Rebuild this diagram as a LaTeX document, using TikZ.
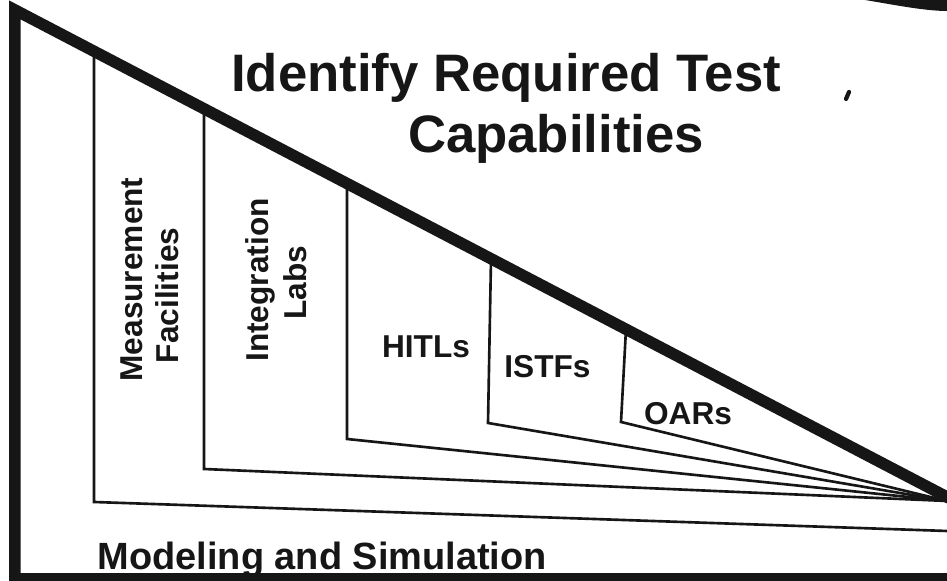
\documentclass[tikz,border=0pt]{standalone}
\usepackage{fontspec}
\setmainfont{Liberation Sans}
\usetikzlibrary{calc}
\definecolor{inkcolor}{RGB}{22, 22, 22}

\begin{document}
\begin{tikzpicture}[>=stealth, line join=miter,
    frameline/.style={inkcolor, line width=1.15mm},
    bayline/.style={inkcolor, line width=0.75pt},
    headtext/.style={inkcolor, font=\fontsize{15}{17}\selectfont\bfseries, inner sep=0pt, anchor=base},
    baylabel/.style={inkcolor, font=\fontsize{9}{10}\selectfont\bfseries, inner sep=0pt, anchor=base},
    sidelabel/.style={baylabel, rotate=90}]

    \useasboundingbox (0,0) rectangle (9.47,5.81);
    \fill[white] (0,0) rectangle (9.47,5.81);

    % ==========================================
    % --- Corner points ---
    % ==========================================
    \coordinate (tl) at (0.15, 5.71);
    \coordinate (bl) at (0.15, -0.05);
    \coordinate (br) at (9.60, 0.772);
    \coordinate (apex) at (9.47, 0.80);   % where the bays meet
    \coordinate (edge) at (9.47, 0.50);   % outer bay ends at the right side

    % Bay walls: top on the slope, bottom corner
    \foreach \n/\xt/\yt/\xb/\yb in {mf/0.94/5.30/0.94/0.79, il/2.04/4.72/2.04/1.12,
                                    hi/3.47/3.975/3.47/1.42, is/4.91/3.22/4.88/1.58,
                                    oa/6.26/2.52/6.21/1.59}
    {
        \coordinate (\n top) at (\xt,\yt);
        \coordinate (\n bot) at (\xb,\yb);
    }

    % --- Bays ---
    \draw[bayline] (mftop) -- (mfbot) -- (edge);
    \draw[bayline] (iltop) -- (ilbot) -- (apex);
    \draw[bayline] (hitop) -- (hibot) -- (apex);
    \draw[bayline] (istop) -- (isbot) -- (apex);
    \draw[bayline] (oatop) -- (oabot) -- (apex);

    % --- Labels ---
    \node[headtext] (ttlA) at (5.06, 4.89) {Identify Required Test};
    \node[headtext] (ttlB) at (5.56, 4.28) {Capabilities};

    \node[sidelabel] (meas) at (1.42, 3.015) {Measurement};
    \node[sidelabel] (fac)  at (1.78, 2.855) {Facilities};
    \node[sidelabel] (integ) at (2.68, 3.01) {Integration};
    \node[sidelabel] (labs) at (3.06, 2.985) {Labs};

    \node[baylabel] (hitl) at (4.26, 2.23) {HITLs};
    \node[baylabel] (istf) at (5.475, 2.03) {ISTFs};
    \node[baylabel] (oar)  at (6.88, 1.56) {OARs};

    \node[inkcolor, font=\fontsize{10.8}{12}\selectfont\bfseries, inner sep=0pt,
          anchor=base west] (model) at (0.97, 0.11) {Modeling and Simulation};

    % --- Frame and slope ---
    \draw[frameline] (bl) -- (tl) -- (br);
    \draw[frameline, line width=0.8mm] (0.09, 0.04) -- (9.47, 0.04);

    % stray marks on the sheet
    \fill[inkcolor] (8.65,5.81) -- (9.47,5.81) -- (9.47,5.70) .. controls (9.25,5.70) and (8.95,5.76) .. (8.65,5.81);
    \draw[inkcolor, line width=1.2pt, line cap=round] (8.46,4.82) -- (8.49,4.89);

\end{tikzpicture}
\end{document}
